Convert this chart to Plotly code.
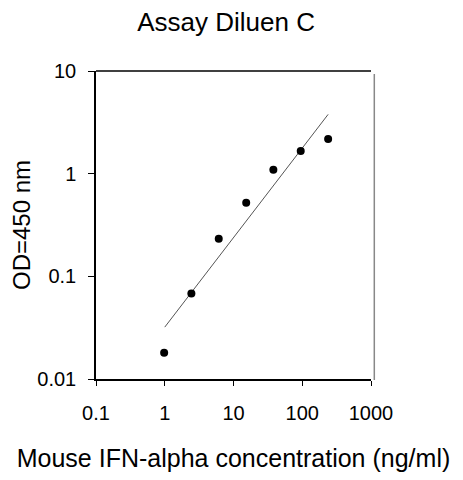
import plotly.graph_objects as go

concentration = [0.98, 2.44, 6.1, 15.3, 38, 95, 238]
od450 = [0.018, 0.068, 0.232, 0.52, 1.09, 1.66, 2.17]

fit_x = [1.0, 238]
fit_y = [0.032, 3.78]

x_ticks = [0.1, 1, 10, 100, 1000]
x_ticktext = ["0.1", "1", "10", "100", "1000"]
y_ticks = [0.01, 0.1, 1, 10]
y_ticktext = ["0.01", "0.1", "1", "10"]

FONT = "Liberation Sans, Arial, sans-serif"

fig = go.Figure()
fig.add_trace(go.Scatter(x=fit_x, y=fit_y, mode="lines",
                         line=dict(color="#555555", width=1), showlegend=False))
fig.add_trace(go.Scatter(x=concentration, y=od450, mode="markers",
                         marker=dict(color="black", size=8), showlegend=False))

fig.update_layout(
    width=463, height=480,
    margin=dict(l=88, r=100, t=63, b=109),
    paper_bgcolor="white", plot_bgcolor="white",
    font=dict(family=FONT, color="black"),
    title=dict(text="Assay Diluen C", x=0.471, xanchor="center", y=0.971, yanchor="middle",
               font=dict(size=26, family=FONT, color="black")),
    xaxis=dict(type="log", range=[-1, 3], tickvals=x_ticks, ticktext=x_ticktext,
               automargin=False,
               showgrid=False, zeroline=False, showline=True, linecolor="black", linewidth=1.5,
               ticks="outside", ticklen=5, tickcolor="black", tickfont=dict(size=20),
               ticklabelstandoff=10,
               title=dict(text="Mouse IFN-alpha concentration (ng/ml)", font=dict(size=25), standoff=27)),
    yaxis=dict(type="log", range=[-2, 1], tickvals=y_ticks, ticktext=y_ticktext,
               automargin=False,
               showgrid=False, zeroline=False, showline=True, linecolor="black", linewidth=1.5,
               ticks="outside", ticklen=6, tickcolor="black", tickfont=dict(size=20),
               ticklabelstandoff=8,
               title=dict(text="OD=450 nm", font=dict(size=24), standoff=21)),
    shapes=[
        dict(type="line", xref="paper", yref="paper", x0=0, x1=1, y0=1, y1=1,
             line=dict(color="black", width=1.5)),
        dict(type="line", xref="paper", yref="paper", x0=1.012, x1=1.012, y0=-0.003, y1=0.99,
             line=dict(color="#888888", width=1.5)),
    ],
)

fig.write_html("out.html")
